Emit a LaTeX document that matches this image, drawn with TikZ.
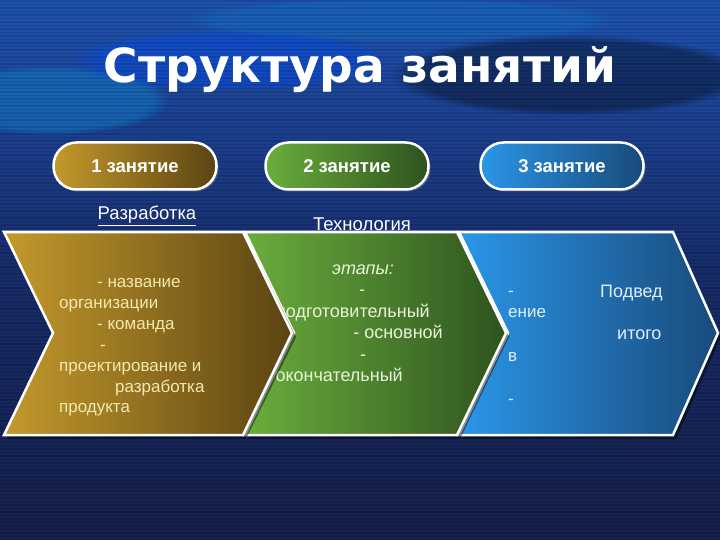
\documentclass[tikz,border=0pt]{standalone}
\usepackage{fontspec}
\setmainfont{Liberation Sans}
\newfontfamily\titlefont{DejaVu Sans}
\usetikzlibrary{shapes,shadows,fadings,positioning,calc}
\usepackage{xcolor}
\definecolor{bgtop}{HTML}{1E52B0}
\definecolor{bgmid}{HTML}{182C6A}
\definecolor{bgbot}{HTML}{141F4A}
\definecolor{goldL}{HTML}{C49A2C}
\definecolor{goldR}{HTML}{5B4312}
\definecolor{greenL}{HTML}{6AAE3C}
\definecolor{greenR}{HTML}{2E531F}
\definecolor{blueL}{HTML}{2A96E8}
\definecolor{blueR}{HTML}{194A7A}
\definecolor{txtgold}{HTML}{F3E9B0}
\definecolor{txtgreen}{HTML}{E8F3D8}
\definecolor{txtblue}{HTML}{DDEEFF}
\tikzstyle{pill} = [rectangle, rounded corners=23pt, minimum width=163pt, minimum height=47pt, draw=white, line width=2.5pt, text=white, font=\fontsize{18.5}{22}\selectfont\bfseries, drop shadow={opacity=.5, shadow xshift=2pt, shadow yshift=-2pt}]
\tikzstyle{chev} = [draw=white, line width=2.5pt, line join=miter]
\tikzstyle{chshadow} = [fill=black, opacity=.45]
\tikzstyle{linetxt} = [inner sep=0pt, anchor=base west, font=\fontsize{17}{20}\selectfont]
\tikzstyle{bigtxt} = [inner sep=0pt, anchor=base west, font=\fontsize{18}{21}\selectfont]
\tikzstyle{topic} = [inner sep=0pt, anchor=base, text=white, font=\fontsize{18.5}{22}\selectfont]
\tikzstyle{glow} = [path fading=circle with fuzzy edge 15 percent]

\begin{document}
\begin{tikzpicture}[x=1pt, y=-1pt]
    % Background
    \useasboundingbox (0,0) rectangle (720,540);
    \fill[top color=bgtop, bottom color=bgbot, middle color=bgmid] (0,0) rectangle (720,540);
    \fill[glow, cyan!70!blue, opacity=.45] (50,100) ellipse (120 and 35);
    \fill[glow, cyan!60!blue, opacity=.35] (400,20) ellipse (220 and 22);
    \fill[glow, blue!70!cyan, opacity=.35] (230,60) ellipse (160 and 30);
    \fill[glow, black, opacity=.35] (570,75) ellipse (180 and 40);
    \foreach \y in {1,4.5,...,540}
        \draw[black, opacity=.13, line width=1.3pt] (0,\y) -- (720,\y);

    % Title
    \node (title) [text=white, font=\titlefont\fontsize{47}{54}\selectfont\bfseries] at (360,70) {Структура занятий};

    % Topics
    \node (topic1) [topic] at (147,220) {\underline{Разработка}};
    \node (topic2) [topic] at (362,230) {\underline{Технология}};

    % Chevron 3
    \fill[chshadow] (462,236) -- (676,236) -- (721,337) -- (676,439) -- (462,439) -- (511,337) -- cycle;
    \path[chev, left color=blueL, right color=blueR] (459,232) -- (673,232) -- (718,333) -- (673,435) -- (459,435) -- (508,333) -- cycle;
    \node (c3a) [linetxt, text=txtblue] at (508,296) {-};
    \node (c3b) [linetxt, text=txtblue] at (508,317) {ение};
    \node (c3c) [linetxt, text=txtblue] at (508,361) {в};
    \node (c3d) [linetxt, text=txtblue] at (508,404) {-};
    \node (c3e) [bigtxt, text=txtblue] at (600,297) {Подвед};
    \node (c3f) [bigtxt, text=txtblue] at (617,339) {итого};

    % Chevron 2
    \fill[chshadow] (248,236) -- (460,236) -- (509,337) -- (460,439) -- (248,439) -- (297,337) -- cycle;
    \path[chev, left color=greenL, right color=greenR] (245,232) -- (457,232) -- (506,333) -- (457,435) -- (245,435) -- (294,333) -- cycle;
    \node (c2a) [bigtxt, text=txtgreen, font=\fontsize{18}{21}\selectfont\itshape] at (332,274) {этапы:};
    \node (c2b) [bigtxt, text=txtgreen] at (359,295) {-};
    \node (c2c) [bigtxt, text=txtgreen, anchor=base east] at (430,317) {подготовительный};
    \node (c2d) [bigtxt, text=txtgreen, anchor=base east] at (443,338) {- основной};
    \node (c2e) [bigtxt, text=txtgreen] at (360,360) {-};
    \node (c2f) [bigtxt, text=txtgreen, anchor=base east] at (403,381) {окончательный};

    % Chevron 1
    \fill[chshadow] (7,236) -- (246,236) -- (296,337) -- (246,439) -- (7,439) -- (56,337) -- cycle;
    \path[chev, left color=goldL, right color=goldR] (4,232) -- (243,232) -- (292,333) -- (243,435) -- (4,435) -- (53,333) -- cycle;
    \node (c1a) [linetxt, text=txtgold] at (97,287) {- название};
    \node (c1b) [linetxt, text=txtgold] at (59,308) {организации};
    \node (c1c) [linetxt, text=txtgold] at (97,329) {- команда};
    \node (c1d) [linetxt, text=txtgold] at (100,350) {-};
    \node (c1e) [linetxt, text=txtgold] at (59,371) {проектирование и};
    \node (c1f) [linetxt, text=txtgold] at (115,392) {разработка};
    \node (c1g) [linetxt, text=txtgold] at (59,412) {продукта};

    % Lessons
    \node (lesson1) [pill, left color=goldL, right color=goldR] at (135,166) {1 занятие};
    \node (lesson2) [pill, left color=greenL, right color=greenR] at (347,166) {2 занятие};
    \node (lesson3) [pill, left color=blueL, right color=blueR] at (562,166) {3 занятие};
\end{tikzpicture}
\end{document}
